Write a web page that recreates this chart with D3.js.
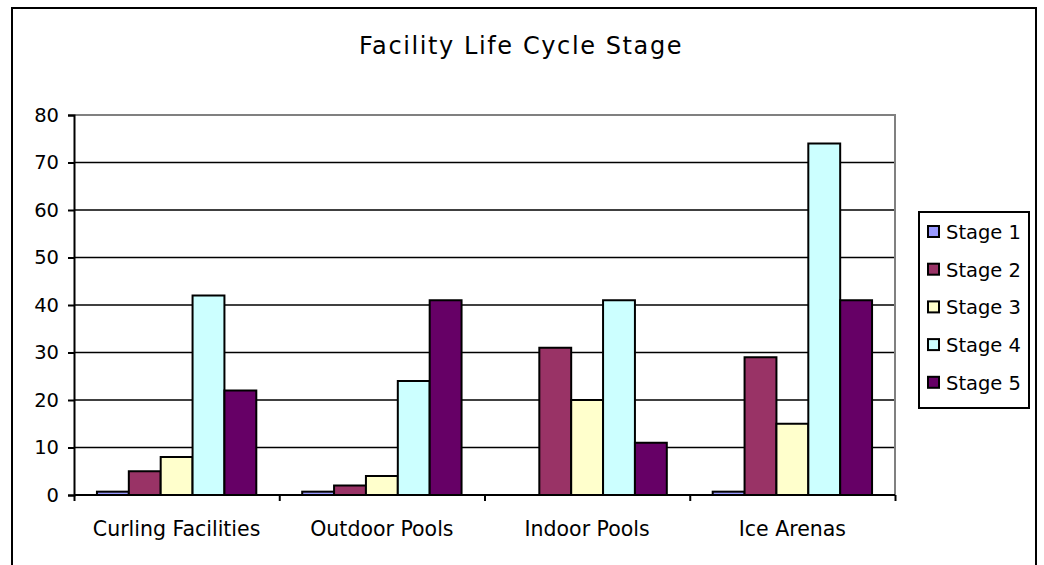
<!DOCTYPE html>
<html><head><meta charset="utf-8">
<script src="https://cdn.jsdelivr.net/npm/d3@7"></script>
<style>body{margin:0;background:#fff;}svg{display:block;font-family:"DejaVu Sans",Verdana,sans-serif;}</style>
</head><body>
<script>
const categories = ["Curling Facilities","Outdoor Pools","Indoor Pools","Ice Arenas"];
const seriesNames = ["Stage 1","Stage 2","Stage 3","Stage 4","Stage 5"];
const stage1 = [0.7, 0.7, 0, 0.7];
const stage2 = [5, 2, 31, 29];
const stage3 = [8, 4, 20, 15];
const stage4 = [42, 24, 41, 74];
const stage5 = [22, 41, 11, 41];
const seriesValues = [stage1, stage2, stage3, stage4, stage5];
const colors = ["#9999FF","#993366","#FFFFCC","#CCFFFF","#660066"];
const yTicks = [0,10,20,30,40,50,60,70,80];
const title = "Facility Life Cycle Stage";

const W = 1044, H = 565;
const svg = d3.select("body").append("svg").attr("width", W).attr("height", H);

// outer frame
svg.append("path").attr("d", `M12,${H+5} L12,8 L1036,8 L1036,${H+5}`)
  .attr("fill","none").attr("stroke","#000").attr("stroke-width",2);

svg.append("text").attr("x", 521).attr("y", 54).attr("text-anchor","middle")
  .attr("font-size", 24).attr("letter-spacing", 1.6).attr("fill","#000").text(title);

const plot = {l:74, r:895, t:115, b:495};
const x0 = d3.scaleBand().domain(categories).range([plot.l, plot.r]).paddingInner(0).paddingOuter(0);
const x1 = d3.scaleBand().domain(seriesNames).range([0, x0.bandwidth()]).paddingInner(0).paddingOuter(0.72);
const y = d3.scaleLinear().domain([0,80]).range([plot.b, plot.t]);

// gridlines
svg.append("g").selectAll("line").data(yTicks.filter(d=>d>0 && d<80)).join("line")
  .attr("x1", plot.l).attr("x2", plot.r).attr("y1", d=>y(d)).attr("y2", d=>y(d))
  .attr("stroke","#000").attr("stroke-width",1.3);
// plot border top/right gray
svg.append("path").attr("d",`M${plot.l},${plot.t} L${plot.r},${plot.t} L${plot.r},${plot.b}`)
  .attr("fill","none").attr("stroke","#808080").attr("stroke-width",2);

// bars
const groups = svg.append("g").selectAll("g").data(categories).join("g")
  .attr("transform", d=>`translate(${x0(d)},0)`);
groups.selectAll("rect").data((c,ci)=>seriesNames.map((s,si)=>({s, si, v: seriesValues[si][ci]})).filter(d=>d.v>0))
  .join("rect")
  .attr("x", d=>x1(d.s)).attr("width", x1.bandwidth())
  .attr("y", d=>y(d.v)).attr("height", d=>y(0)-y(d.v))
  .attr("fill", d=>colors[d.si]).attr("stroke","#000").attr("stroke-width",2);

// y axis
const yAxis = d3.axisLeft(y).tickValues(yTicks).tickSize(6).tickPadding(9);
const gy = svg.append("g").attr("transform",`translate(${plot.l},0)`).call(yAxis);
gy.select(".domain").attr("stroke","#000").attr("stroke-width",2);
gy.selectAll(".tick line").attr("stroke","#000").attr("stroke-width",2);
gy.selectAll("text").attr("font-size",19.5).attr("fill","#000").attr("font-family","DejaVu Sans");

// x axis
const xAxis = d3.axisBottom(d3.scaleLinear().domain([0,4]).range([plot.l, plot.r])).tickValues([0,1,2,3,4]).tickSize(6).tickFormat("");
const gx = svg.append("g").attr("transform",`translate(0,${plot.b})`).call(xAxis);
gx.select(".domain").attr("stroke","#000").attr("stroke-width",2).attr("d",`M${plot.l},0H${plot.r}`);
gx.selectAll(".tick line").attr("stroke","#000").attr("stroke-width",2);
svg.append("g").selectAll("text").data(categories).join("text")
  .attr("x", d=>x0(d)+x0.bandwidth()/2).attr("y", 536).attr("text-anchor","middle")
  .attr("font-size",20.5).attr("fill","#000").text(d=>d);

// legend
const lg = svg.append("g");
lg.append("rect").attr("x",919).attr("y",212).attr("width",110).attr("height",196)
  .attr("fill","#fff").attr("stroke","#000").attr("stroke-width",2);
const items = lg.selectAll("g").data(seriesNames).join("g")
  .attr("transform",(d,i)=>`translate(928,${232 + i*37.7})`);
items.append("rect").attr("x",0).attr("y",-6).attr("width",11).attr("height",11)
  .attr("fill",(d,i)=>colors[i]).attr("stroke","#000").attr("stroke-width",2);
items.append("text").attr("x",18).attr("y",0).attr("dy","0.36em").attr("font-size",19.5).attr("fill","#000").text(d=>d);
</script>
</body></html>
